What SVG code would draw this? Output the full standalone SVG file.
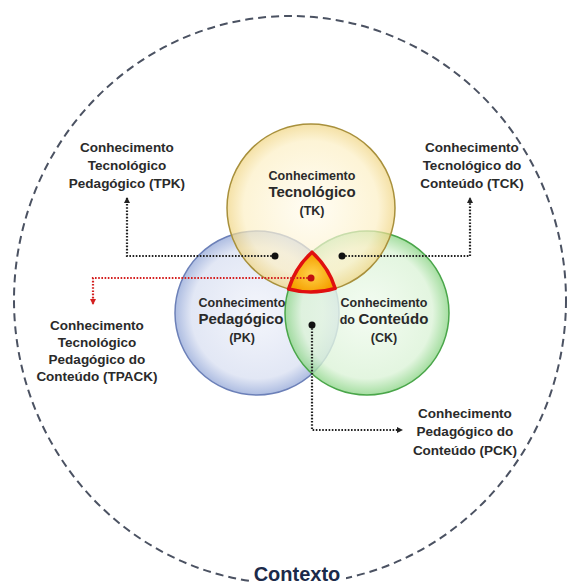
<svg xmlns="http://www.w3.org/2000/svg" width="571" height="587" viewBox="0 0 571 587">
<defs>
<style>
.lbl{font-family:"Liberation Sans",Arial,sans-serif;font-weight:bold;fill:#2a2a2a;text-anchor:middle}
.s{font-size:13.5px}
.in{font-size:12.5px}
.big{font-size:15px}
.con{fill:none;stroke:#222;stroke-width:2.2;stroke-dasharray:1.6 1.6}
.red{fill:none;stroke:#d42020;stroke-width:2.2;stroke-dasharray:1.6 1.6}
</style>
<radialGradient id="gY" cx="50%" cy="50%" r="50%">
<stop offset="0" stop-color="#fffcf0"/><stop offset="0.8" stop-color="#fcefc4"/><stop offset="1" stop-color="#f0d480"/>
</radialGradient>
<radialGradient id="gB" cx="50%" cy="50%" r="50%">
<stop offset="0" stop-color="#f2f4fb"/><stop offset="0.8" stop-color="#dde3f3"/><stop offset="1" stop-color="#9fb1dc"/>
</radialGradient>
<radialGradient id="gG" cx="50%" cy="50%" r="50%">
<stop offset="0" stop-color="#f1fbef"/><stop offset="0.8" stop-color="#dcf3d8"/><stop offset="1" stop-color="#8fd68a"/>
</radialGradient>
<radialGradient id="gO" cx="50%" cy="55%" r="50%">
<stop offset="0" stop-color="#ffd24a"/><stop offset="1" stop-color="#f5a000"/>
</radialGradient>
<marker id="ah" markerWidth="7" markerHeight="7" refX="5" refY="3.5" orient="auto" markerUnits="userSpaceOnUse">
<path d="M0,0.5 L6,3.5 L0,6.5 Z" fill="#222"/>
</marker>
<marker id="ahr" markerWidth="7" markerHeight="7" refX="5" refY="3.5" orient="auto" markerUnits="userSpaceOnUse">
<path d="M0,0.5 L6,3.5 L0,6.5 Z" fill="#d42020"/>
</marker>
</defs>
<rect width="571" height="587" fill="#ffffff"/>
<g id="contexto">
<ellipse cx="290" cy="300" rx="276" ry="284" fill="none" stroke="#4b5262" stroke-width="2" stroke-dasharray="8 5"/>
<rect x="250" y="564" width="96" height="23" fill="#ffffff"/>
<text class="lbl" x="297" y="581" style="font-size:20px;fill:#1c2a4a">Contexto</text>
</g>
<g id="pk">
<circle cx="257" cy="313" r="82" fill="url(#gB)" fill-opacity="0.85" stroke="#6c80b8" stroke-width="1.5"/>
</g>
<g id="ck">
<circle cx="367" cy="313" r="82" fill="url(#gG)" fill-opacity="0.8" stroke="#4aa64a" stroke-width="1.5"/>
</g>
<g id="tk">
<circle cx="311" cy="208" r="84" fill="url(#gY)" fill-opacity="0.7" stroke="#a8903c" stroke-width="1.5"/>
<text class="lbl in" x="312" y="180">Conhecimento</text>
<text class="lbl big" x="312" y="197">Tecnológico</text>
<text class="lbl in" x="312" y="215">(TK)</text>
</g>
<g id="pk-label">
<text class="lbl in" x="242" y="307">Conhecimento</text>
<text class="lbl big" x="241" y="324">Pedagógico</text>
<text class="lbl in" x="242" y="342">(PK)</text>
</g>
<g id="ck-label">
<text class="lbl in" x="384" y="307">Conhecimento</text>
<text class="lbl" x="384" y="324"><tspan style="font-size:12.5px">do </tspan><tspan style="font-size:15px">Conteúdo</tspan></text>
<text class="lbl in" x="384" y="342">(CK)</text>
</g>
<g id="tpack-core">
<path d="M312,252.2 A82,82 0 0 0 288.6,289 A84,84 0 0 0 335.2,288.4 A82,82 0 0 0 312,252.2 Z" fill="url(#gO)" stroke="#e01010" stroke-width="3.5" stroke-linejoin="round"/>
</g>
<g id="connectors">
<path class="con" d="M275,256 H127 V198" marker-end="url(#ah)"/>
<path class="con" d="M342,256 H470 V198" marker-end="url(#ah)"/>
<path class="red" d="M311,278 H93 V304" marker-end="url(#ahr)"/>
<path class="con" d="M312,325 V430 H402" marker-end="url(#ah)"/>
<circle cx="275" cy="256" r="3.5" fill="#111"/>
<circle cx="342" cy="256" r="3.5" fill="#111"/>
<circle cx="311" cy="278" r="3.5" fill="#c01010"/>
<circle cx="312" cy="325" r="3.5" fill="#111"/>
</g>
<g id="tpk">
<text class="lbl s" x="127" y="152">Conhecimento</text>
<text class="lbl s" x="127" y="170">Tecnológico</text>
<text class="lbl s" x="127" y="188">Pedagógico (TPK)</text>
</g>
<g id="tck">
<text class="lbl s" x="472" y="152">Conhecimento</text>
<text class="lbl s" x="472" y="170">Tecnológico do</text>
<text class="lbl s" x="472" y="188">Conteúdo (TCK)</text>
</g>
<g id="tpack">
<text class="lbl s" x="97" y="330">Conhecimento</text>
<text class="lbl s" x="97" y="347">Tecnológico</text>
<text class="lbl s" x="97" y="364">Pedagógico do</text>
<text class="lbl s" x="97" y="381">Conteúdo (TPACK)</text>
</g>
<g id="pck">
<text class="lbl s" x="465" y="418">Conhecimento</text>
<text class="lbl s" x="465" y="436">Pedagógico do</text>
<text class="lbl s" x="465" y="455">Conteúdo (PCK)</text>
</g>
</svg>
